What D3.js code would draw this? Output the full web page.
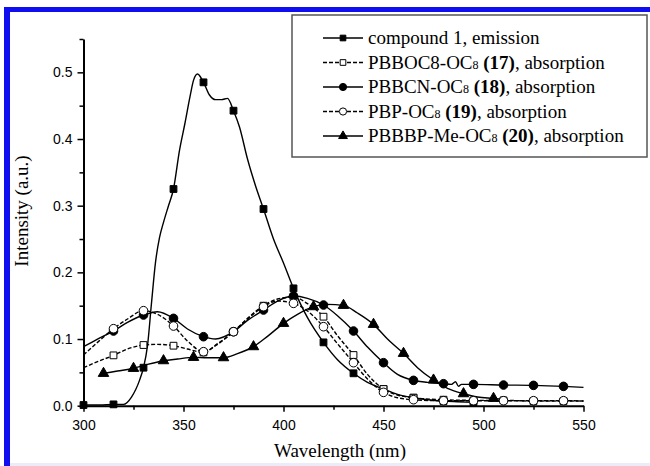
<!DOCTYPE html>
<html>
<head>
<meta charset="utf-8">
<script src="https://cdn.jsdelivr.net/npm/d3@7/dist/d3.min.js"></script>
<style>
body { margin: 0; background: #fff; }
svg { display: block; }
</style>
</head>
<body>
<script>
// [wavelength nm, intensity]
const emission = [[300,0.001],[308,0.001],[315,0.002],[320,0.002],[324,0.013],[328,0.038],[330,0.057],[332,0.09],[334,0.154],[336,0.215],[338,0.252],[340,0.275],[342.5,0.3],[345,0.325],[348,0.383],[350.75,0.424],[353.25,0.4635],[355,0.488],[357,0.4975],[360,0.485],[363,0.466],[366,0.459],[369,0.459],[372,0.461],[375,0.4425],[378,0.418],[382,0.37],[386,0.33],[390,0.295],[395,0.25],[400,0.214],[405,0.176],[412,0.132],[420,0.095],[427,0.069],[435,0.0486],[442,0.035],[450,0.025],[457,0.017],[465,0.012],[472,0.009],[480,0.007],[487,0.006],[495,0.005]]
const emissionMarks = [300,315,330,345,360,375,390,405,420,435,450,465,480,495]

const pbboc = [[300,0.057],[307,0.066],[315,0.0755],[322,0.085],[330,0.091],[337,0.092],[345,0.09],[352,0.085],[360,0.08],[367,0.093],[375,0.111],[382,0.131],[390,0.15],[397,0.16],[405,0.163],[412,0.153],[420,0.1335],[427,0.105],[435,0.076],[442,0.047],[450,0.025],[457,0.016],[465,0.012],[480,0.009],[495,0.008],[510,0.008],[525,0.007],[540,0.007],[550,0.007]]
const pbbocMarks = [315,330,345,360,375,390,405,420,435,450,465,480,495,510,525,540]

const pbbcn = [[300,0.0885],[307,0.1],[315,0.112],[322,0.125],[330,0.136],[337,0.141],[345,0.131],[352,0.115],[360,0.1035],[366,0.1],[375,0.111],[382,0.128],[390,0.1435],[397,0.157],[405,0.1645],[412,0.161],[420,0.151],[427,0.135],[435,0.112],[442,0.088],[450,0.0645],[457,0.047],[465,0.038],[472,0.035],[480,0.033],[484,0.032],[486,0.036],[487.5,0.029],[489,0.032],[495,0.032],[510,0.031],[525,0.0305],[540,0.029],[550,0.0275]]
const pbbcnMarks = [315,330,345,360,375,390,405,420,435,450,465,480,495,510,525,540]

const pbp = [[300,0.076],[307,0.095],[315,0.1155],[322,0.13],[330,0.1425],[337,0.137],[345,0.1195],[352,0.097],[360,0.081],[367,0.092],[375,0.111],[382,0.13],[390,0.1485],[397,0.157],[405,0.1535],[412,0.142],[420,0.1185],[427,0.093],[435,0.0645],[442,0.04],[450,0.02],[457,0.012],[465,0.009],[480,0.0075],[495,0.0075],[510,0.0075],[525,0.0075],[540,0.0075],[550,0.007]]
const pbpMarks = [315,330,345,360,375,390,405,420,435,450,465,480,495,510,525,540]

const pbbbp = [[310,0.0485],[317,0.052],[325,0.056],[332,0.062],[340,0.0675],[347,0.07],[355,0.0725],[362,0.072],[370,0.072],[377,0.078],[385,0.0885],[392,0.104],[400,0.1235],[407,0.137],[415,0.1485],[422,0.152],[430,0.1505],[437,0.139],[445,0.122],[452,0.1],[460,0.0785],[467,0.057],[475,0.0385],[482,0.026],[490,0.018],[497,0.013],[505,0.011],[512,0.009]]
const pbbbpMarks = [310,325,340,355,370,385,400,415,430,445,460,475,490,505]

const xTicks = [300,350,400,450,500,550]
const xMinor = [325,375,425,475,525]
const yTicks = [0,0.1,0.2,0.3,0.4,0.5]
const yMinor = [0.05,0.15,0.25,0.35,0.45,0.55]

// legend label pieces: [text, style] where s = subscript, b = bold
const legendLabels = [
  [['compound 1, emission','']],
  [['PBBOC8-OC',''],['8','s'],[' ',''],['(17)','b'],[', absorption','']],
  [['PBBCN-OC',''],['8','s'],[' ',''],['(18)','b'],[', absorption','']],
  [['PBP-OC',''],['8','s'],[' ',''],['(19)','b'],[', absorption','']],
  [['PBBBP-Me-OC',''],['8','s'],[' ',''],['(20)','b'],[', absorption','']]
]

const series = [
  {data: emission, marks: emissionMarks, shape: d3.symbolSquare, size: 46, fill: '#000', dash: null},
  {data: pbboc, marks: pbbocMarks, shape: d3.symbolSquare, size: 46, fill: '#fff', dash: '4,2'},
  {data: pbbcn, marks: pbbcnMarks, shape: d3.symbolCircle, size: 58, fill: '#000', dash: null},
  {data: pbp, marks: pbpMarks, shape: d3.symbolCircle, size: 58, fill: '#fff', dash: '4,2'},
  {data: pbbbp, marks: pbbbpMarks, shape: d3.symbolTriangle, size: 48, fill: '#000', dash: null}
]

const W = 650, H = 466
const svg = d3.select('body').append('svg').attr('width', W).attr('height', H)
const serif = '"Liberation Serif", "Times New Roman", serif'
const sans = '"Liberation Sans", Arial, sans-serif'

// blue frame
svg.append('rect').attr('x', 4).attr('y', 7).attr('width', W - 4).attr('height', 5).attr('fill', '#0e0ef0')
svg.append('rect').attr('x', 4).attr('y', 7).attr('width', 6).attr('height', H - 7).attr('fill', '#0e0ef0')
svg.append('rect').attr('x', 10).attr('y', 463).attr('width', W - 10).attr('height', 3).attr('fill', '#ececf8')

const x = d3.scaleLinear([300, 550], [83.5, 583.5])
const y = d3.scaleLinear([0, 0.55], [405.7, 39])

// axes
const xAxis = svg.append('g').attr('transform', `translate(0,${y(0)})`)
  .call(d3.axisBottom(x).tickValues(xTicks).tickSize(6).tickSizeOuter(0).tickPadding(8).tickFormat(d3.format('d')))
xAxis.append('g').call(d3.axisBottom(x).tickValues(xMinor).tickSize(4).tickFormat('')).select('.domain').remove()
const yAxis = svg.append('g').attr('transform', `translate(${x(300)},0)`)
  .call(d3.axisLeft(y).tickValues(yTicks).tickSize(6).tickSizeOuter(0).tickPadding(5).tickFormat(d3.format('.1f')))
yAxis.append('g').call(d3.axisLeft(y).tickValues(yMinor).tickSize(4).tickFormat('')).select('.domain').remove()
svg.selectAll('.domain').attr('stroke-width', 2)
svg.selectAll('.tick line').attr('stroke-width', 1.5)
svg.selectAll('.tick text').attr('font-family', sans).attr('font-size', 14).attr('fill', '#000')

svg.append('text').attr('x', 340).attr('y', 457).attr('text-anchor', 'middle')
  .attr('font-family', serif).attr('font-size', 19).text('Wavelength (nm)')
svg.append('text').attr('transform', 'translate(28,211) rotate(-90)').attr('text-anchor', 'middle')
  .attr('font-family', serif).attr('font-size', 19).text('Intensity (a.u.)')

// curves
const line = d3.line().x(d => x(d[0])).y(d => y(d[1])).curve(d3.curveMonotoneX)
const plot = svg.append('g')
series.forEach(s => {
  plot.append('path').attr('d', line(s.data)).attr('fill', 'none').attr('stroke', '#000')
    .attr('stroke-width', 1.4).attr('stroke-dasharray', s.dash)
})
series.forEach(s => {
  const pts = s.marks.map(w => s.data.find(d => d[0] === w))
  plot.selectAll(null).data(pts).enter().append('path')
    .attr('d', d3.symbol(s.shape, s.size))
    .attr('transform', d => `translate(${x(d[0])},${y(d[1])})`)
    .attr('fill', s.fill).attr('stroke', '#000').attr('stroke-width', 1)
})

// legend
const lg = svg.append('g')
lg.append('rect').attr('x', 292).attr('y', 15).attr('width', 355).attr('height', 142)
  .attr('fill', '#fff').attr('stroke', '#555').attr('stroke-width', 1.5)
series.forEach((s, i) => {
  const ly = 38 + i * 24.5
  lg.append('line').attr('x1', 323).attr('x2', 363).attr('y1', ly).attr('y2', ly)
    .attr('stroke', '#000').attr('stroke-width', 1.4).attr('stroke-dasharray', s.dash)
  lg.append('path').attr('d', d3.symbol(s.shape, s.size * 0.7)).attr('transform', `translate(343,${ly})`)
    .attr('fill', s.fill).attr('stroke', '#000').attr('stroke-width', 1)
  const t = lg.append('text').attr('x', 368).attr('y', ly + 6).attr('font-family', serif).attr('font-size', 19)
  legendLabels[i].forEach(p => {
    const ts = t.append('tspan').text(p[0])
    if (p[1] === 's') ts.attr('font-size', 12)
    if (p[1] === 'b') ts.attr('font-weight', 'bold')
  })
})
</script>
</body>
</html>
